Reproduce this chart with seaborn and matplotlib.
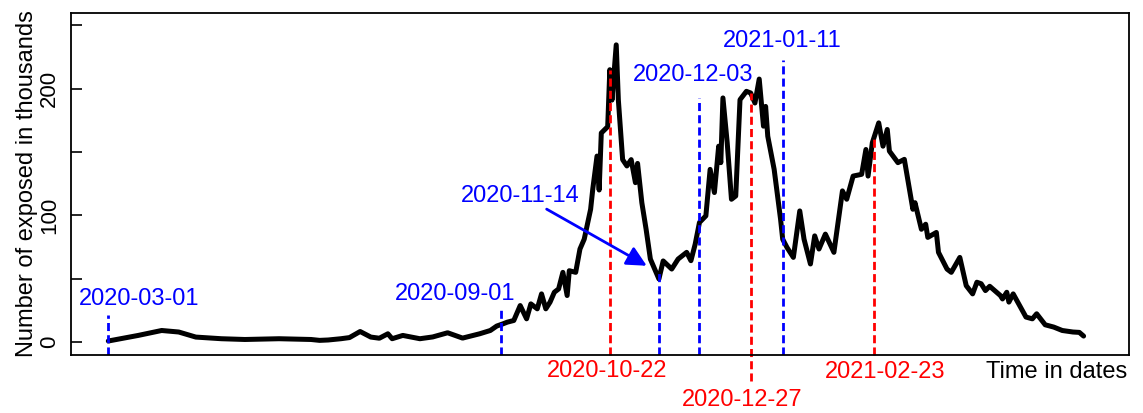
import numpy as np
import pandas as pd
import matplotlib
matplotlib.use("Agg")
import matplotlib.pyplot as plt
import matplotlib.dates as mdates
import seaborn as sns

# ---------------- data ----------------
START = "2020-03-01"
day_offsets = [0, 14, 25, 33, 41, 53, 64, 80, 95, 99, 103, 109, 113, 118, 123, 127,
               131, 133, 138, 146, 152, 159, 166, 174, 179, 182, 185, 187, 190, 193,
               196, 198, 201, 203, 205, 207, 209, 211, 213, 215, 216, 219, 221, 223,
               224, 226, 227, 229, 230, 231, 234, 235, 236, 238, 239, 241,
               243, 245, 247, 248, 250, 252, 254, 256, 258, 260, 264, 267, 271, 273,
               275, 277, 280, 282, 284, 286, 287, 288, 290, 292, 294, 296, 299, 301,
               303, 305, 307, 308, 309, 312, 315, 316, 318, 321, 324, 326, 329, 331,
               333, 336, 340, 344, 346, 349, 353, 355, 356, 358, 361, 363, 365, 366,
               370, 373, 377, 378, 381, 383, 384, 388, 389, 393, 395, 399, 402, 405,
               407, 409, 411, 413, 418, 419, 421, 422, 424, 427, 430, 433, 435, 439,
               443, 447, 452, 455, 457]
exposed_thousands = [0.8, 5.2, 9.1, 7.9, 3.9, 2.6, 2.0, 2.6, 2.0, 1.3, 1.6, 2.6, 3.5, 8.3, 3.9, 3.0,
                     6.5, 2.6, 5.2, 2.6, 4.0, 7.3, 3.1, 6.5, 9.1, 12.6, 14.4, 15.7, 17.0, 28.8,
                     18.3, 30.1, 26.2, 38.0, 26.2, 31.5, 39.3, 41.9, 55.0, 36.7, 56.3, 55.0, 73.4, 81.2,
                     89.0, 104.8, 120.6, 146.8, 120.0, 165.0, 170.0, 215.0, 191.0, 234.6, 191.0, 144.0,
                     139.0, 144.0, 125.8, 141.0, 110.0, 89.0, 65.5, 57.6, 49.8, 64.0, 57.6, 65.5, 70.8, 64.2,
                     77.3, 94.4, 99.6, 136.3, 118.0, 154.6, 141.6, 192.7, 157.3, 112.7, 115.3, 191.3, 197.9, 196.6,
                     188.7, 207.6, 170.4, 186.0, 162.5, 136.3, 97.0, 81.2, 74.7, 66.8, 103.5, 81.2, 61.6, 83.8,
                     73.4, 85.2, 70.8, 119.3, 112.7, 131.0, 132.4, 152.0, 131.0, 157.3, 173.0, 154.6, 167.8, 150.7,
                     141.6, 144.2, 104.8, 110.0, 89.0, 93.0, 82.6, 86.5, 70.8, 57.6, 55.0, 66.8, 44.5, 38.0,
                     47.2, 46.0, 40.6, 44.0, 36.7, 34.0, 39.3, 31.5, 38.0, 28.8, 19.7, 18.3, 22.3, 13.6,
                     11.8, 9.1, 7.9, 7.6, 4.7]

blue_dates = ["2020-03-01", "2020-09-01", "2020-11-14", "2020-12-03", "2021-01-11"]
blue_line_tops = [21, 26, 57, 193, 223]
blue_label_dx = [14.4, -21.5, -65, -3, 0]       # label centre offset in days
blue_label_y = [34, 38, 115, 211, 238]

red_dates = ["2020-10-22", "2020-12-27", "2021-02-23"]
red_line_bottoms = [-10, -31, -10]
red_label_dx = [-1.5, -4, 5]
red_label_y = [-22.6, -46, -23.4]

y_ticks = [0, 50, 100, 150, 200, 250]
y_ticklabels = ["0", "", "100", "", "200", ""]

# ---------------- style ----------------
sns.set_style("ticks")
plt.rcParams['font.family'] = ['Liberation Sans', 'DejaVu Sans']
plt.rcParams['text.color'] = 'black'
plt.rcParams['axes.labelcolor'] = 'black'
plt.rcParams['ytick.color'] = 'black'
plt.rcParams['xtick.color'] = 'black'

fig = plt.figure(figsize=(11.43, 4.13), dpi=100)
ax = fig.add_axes([0.0619, 0.1412, 0.9259, 0.8281])

start = pd.Timestamp(START)
df = pd.DataFrame({
    "date": start + pd.to_timedelta(day_offsets, unit="D"),
    "value": exposed_thousands,
})
sns.lineplot(data=df, x="date", y="value", color="black", lw=3.6, ax=ax,
             solid_joinstyle="round", solid_capstyle="round")

d0 = mdates.date2num(start)
ax.set_xlim(d0 - 17.6, d0 + 478.3)
ax.set_ylim(-10, 260)

dash = (0, (2.9, 1.5))
fs = 17
day_num = np.array(day_offsets, dtype=float)
val_arr = np.array(exposed_thousands, dtype=float)

for d, top, dx, ly in zip(blue_dates, blue_line_tops, blue_label_dx, blue_label_y):
    x = mdates.date2num(pd.Timestamp(d))
    ax.plot([x, x], [-10, top], color="blue", ls=dash, lw=2)
    ax.text(x + dx, ly, d, color="blue", fontsize=fs, ha="center", va="center")
    if d == "2020-11-14":
        ax.annotate("", xy=(x - 5.7, 60.2), xytext=(x - 52.6, 104.9),
                    arrowprops=dict(arrowstyle="-|>", color="blue", lw=2,
                                    mutation_scale=30, shrinkA=0, shrinkB=0))

for d, bot, dx, ly in zip(red_dates, red_line_bottoms, red_label_dx, red_label_y):
    ts = pd.Timestamp(d)
    x = mdates.date2num(ts)
    off = (ts - start).days
    top = np.interp(off, day_num, val_arr)
    ax.plot([x, x], [bot, top], color="red", ls=dash, lw=2, clip_on=False)
    ax.text(x + dx, ly, d, color="red", fontsize=fs, ha="center", va="center", clip_on=False)

ax.text(d0 + 444.4, -23.4, "Time in dates", color="black", fontsize=fs,
        ha="center", va="center", clip_on=False)

ax.set_xticks([])
ax.set_xlabel("")
ax.set_yticks(y_ticks)
ax.set_yticklabels(y_ticklabels, rotation=90, va="center")
ax.tick_params(axis="y", direction="in", length=8, width=1.2, labelsize=16, pad=7.7,
               colors="black")
ax.set_ylabel("Number of exposed in thousands", fontsize=fs, color="black")
ax.yaxis.set_label_coords(-0.031, 0.5)
for s in ax.spines.values():
    s.set_visible(True)
    s.set_color("black")
    s.set_linewidth(1.3)

fig.savefig("out.png", dpi=100)
